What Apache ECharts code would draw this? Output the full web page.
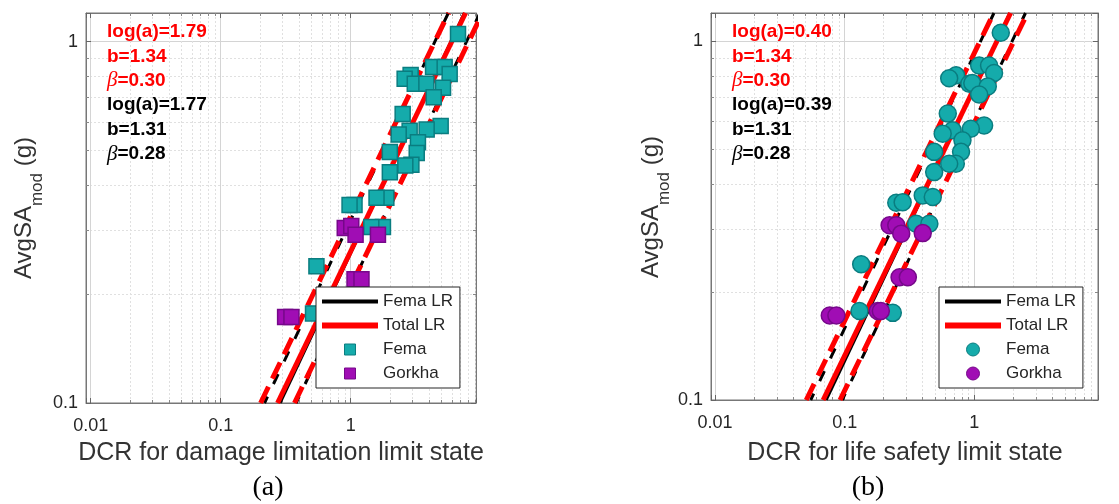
<!DOCTYPE html>
<html>
<head>
<meta charset="utf-8">
<script src="https://cdn.jsdelivr.net/npm/echarts@6/dist/echarts.min.js"></script>
<style>
  html, body { margin: 0; padding: 0; background: #fff; }
  #chart { width: 1119px; height: 504px; }
</style>
</head>
<body>
<div id="chart"></div>
<script>
// ---- Panel (a): DCR for damage limitation limit state ----
const femaA_dcr   = [6.69, 4.30, 5.28, 2.89, 2.60, 5.77, 3.11, 3.82, 5.13, 4.35,
                     2.51, 4.92, 3.84, 2.84, 2.34, 3.29, 2.00, 3.22, 2.93, 2.63,
                     2.00, 1.88, 1.58, 1.07, 0.98, 1.77, 1.44, 0.545, 0.513, 0.97];
const femaA_sa    = [1.05, 0.851, 0.851, 0.808, 0.789, 0.813, 0.764, 0.765, 0.745, 0.702,
                     0.631, 0.584, 0.571, 0.567, 0.553, 0.527, 0.495, 0.492, 0.456, 0.454,
                     0.435, 0.370, 0.370, 0.353, 0.353, 0.307, 0.307, 0.239, 0.177, 0.175];
const gorkhaA_dcr = [0.90, 1.01, 1.09, 1.62, 1.07, 1.21, 0.313, 0.35, 0.75, 0.79];
const gorkhaA_sa  = [0.305, 0.309, 0.292, 0.292, 0.220, 0.220, 0.173, 0.173, 0.177, 0.177];

// ---- Panel (b): DCR for life safety limit state ----
const femaB_dcr   = [1.60, 1.09, 1.30, 0.723, 0.64, 1.42, 0.915, 0.965, 1.27, 1.09,
                     0.624, 1.19, 0.94, 0.681, 0.57, 0.81, 0.49, 0.79, 0.72, 0.64,
                     0.49, 0.40, 0.478, 0.25, 0.28, 0.356, 0.45, 0.134, 0.13, 0.235];
const femaB_sa    = [1.057, 0.857, 0.857, 0.804, 0.789, 0.816, 0.762, 0.765, 0.749, 0.711,
                     0.629, 0.583, 0.571, 0.565, 0.553, 0.530, 0.492, 0.492, 0.456, 0.456,
                     0.432, 0.372, 0.368, 0.355, 0.356, 0.310, 0.310, 0.239, 0.177, 0.175];
const gorkhaB_dcr = [0.222, 0.25, 0.273, 0.40, 0.265, 0.307, 0.0767, 0.0863, 0.18, 0.19];
const gorkhaB_sa  = [0.307, 0.307, 0.291, 0.292, 0.220, 0.220, 0.172, 0.172, 0.177, 0.177];

// Fitted power laws ln(DCR) = ln(a) + b ln(Sa), dispersion beta: [ln a, b, beta]
const fitA_total = [1.79, 1.34, 0.30];
const fitA_fema  = [1.77, 1.31, 0.28];
const fitB_total = [0.40, 1.34, 0.30];
const fitB_fema  = [0.39, 1.31, 0.28];

// Axis ranges and tick labels
const saRange     = [0.1, 1.2];
const xRangeA     = [0.0092, 9.2];
const xRangeB     = [0.0093, 9.0];
const xTickLabels = ['0.01', '0.1', '1'];
const yTickLabels = ['0.1', '1'];

const FONT = '"Liberation Sans", Arial, sans-serif';
const SERIF = '"Liberation Serif", "Times New Roman", serif';
const AXC = '#262626';
const TEAL = '#15abab', TEAL_EDGE = '#0a7d80';
const PURPLE = '#a00db4', PURPLE_EDGE = '#76088a';

// legend glyphs: flat bars for the fits, a square marker
const BAR_THIN = 'path://M0,0H56V4H0Z';
const BAR_THICK = 'path://M0,0H56V6H0Z';
const SQUARE = 'path://M0,0H10V10H0Z';

function labelFor(list) {
  return function (v) {
    const hit = list.find(t => Math.abs(Number(t) - v) <= 1e-6 * Math.max(Number(t), v));
    return hit || '';
  };
}

function pairs(xs, ys) { return xs.map((x, i) => [x, ys[i]]); }

// median (k = 0) and +/- beta bands along the Sa range
function fitLine(fit, k) {
  return saRange.map(s => [Math.exp(fit[0] + k * fit[2]) * Math.pow(s, fit[1]), s]);
}

function axisPair(gi, range, isX, labels) {
  const main = {
    type: 'log', gridIndex: gi, min: range[0], max: range[1],
    position: isX ? 'bottom' : 'left',
    axisLine: { show: true, lineStyle: { color: '#777', width: 1 } },
    axisTick: { show: true, inside: true, length: 5, lineStyle: { color: '#666' } },
    minorTick: { show: true, splitNumber: 9, length: 3, lineStyle: { color: '#888' } },
    splitLine: { show: true, lineStyle: { color: '#d4d4d4', width: 1 } },
    minorSplitLine: { show: true, lineStyle: { color: '#e0e0e0', width: 1, type: [2, 2] } },
    axisLabel: {
      formatter: labelFor(labels), color: AXC, fontSize: 18, fontFamily: FONT,
      margin: isX ? 14 : 8, hideOverlap: false
    }
  };
  const mirror = {
    type: 'log', gridIndex: gi, min: range[0], max: range[1],
    position: isX ? 'top' : 'right',
    axisLine: { show: true, lineStyle: { color: '#777', width: 1 } },
    axisTick: { show: true, inside: true, length: 5, lineStyle: { color: '#666' } },
    minorTick: { show: true, splitNumber: 9, length: 3, lineStyle: { color: '#888' } },
    splitLine: { show: false }, minorSplitLine: { show: false },
    axisLabel: { show: false }
  };
  return [main, mirror];
}

function panelSeries(axisBase, fitFema, fitTotal, femaPts, gorkhaPts, symbol, size) {
  const ax = { xAxisIndex: axisBase, yAxisIndex: axisBase };
  const lineCommon = Object.assign({ type: 'line', showSymbol: false, symbol: 'none', silent: true, clip: true, z: 2 }, ax);
  const dashBlack = { color: '#000', width: 3, type: [11, 14], dashOffset: 4 };
  const dashRed = { color: '#ff0000', width: 5, type: [18, 9] };
  return [
    Object.assign({}, lineCommon, { name: 'Fema LR', data: fitLine(fitFema, 0), lineStyle: { color: '#000', width: 2.5 } }),
    Object.assign({}, lineCommon, { name: 'Fema LR -β', data: fitLine(fitFema, -1), lineStyle: dashBlack }),
    Object.assign({}, lineCommon, { name: 'Fema LR +β', data: fitLine(fitFema, 1), lineStyle: dashBlack }),
    Object.assign({}, lineCommon, { name: 'Total LR -β', data: fitLine(fitTotal, -1), lineStyle: dashRed }),
    Object.assign({}, lineCommon, { name: 'Total LR +β', data: fitLine(fitTotal, 1), lineStyle: dashRed }),
    Object.assign({}, lineCommon, { name: 'Total LR', data: fitLine(fitTotal, 0), lineStyle: { color: '#ff0000', width: 5 } }),
    Object.assign({ type: 'scatter', name: 'Fema', symbol, symbolSize: size, data: femaPts, z: 3,
      itemStyle: { color: TEAL, borderColor: TEAL_EDGE, borderWidth: 1.5, opacity: 1 } }, ax),
    Object.assign({ type: 'scatter', name: 'Gorkha', symbol, symbolSize: size, data: gorkhaPts, z: 3,
      itemStyle: { color: PURPLE, borderColor: PURPLE_EDGE, borderWidth: 1.5, opacity: 1 } }, ax)
  ];
}

function legendFor(left, icon, iconH) {
  return {
    orient: 'vertical', left, top: 287, selectedMode: false,
    itemWidth: 56, itemHeight: iconH, itemGap: 7,
    symbolKeepAspect: true,
    padding: [6, 7, 6, 6],
    backgroundColor: '#fff', borderColor: '#262626', borderWidth: 1,
    textStyle: { fontSize: 17, color: AXC, fontFamily: FONT, lineHeight: 17 },
    z: 10,
    data: [
      { name: 'Fema LR', icon: BAR_THIN, itemStyle: { color: '#000', borderWidth: 0 } },
      { name: 'Total LR', icon: BAR_THICK, itemStyle: { color: '#ff0000', borderWidth: 0 } },
      { name: 'Fema', icon, itemStyle: { color: TEAL, borderColor: TEAL_EDGE, borderWidth: 1 } },
      { name: 'Gorkha', icon, itemStyle: { color: PURPLE, borderColor: PURPLE_EDGE, borderWidth: 1 } }
    ]
  };
}

function annotation(x, fitTotal, fitFema) {
  const rows = [
    [fitTotal, '#ff0000'], [fitFema, '#000000']
  ];
  const out = [];
  let i = 0;
  rows.forEach(([fit, col]) => {
    const lines = [
      '{v|log(a)=' + fit[0].toFixed(2) + '}',
      '{v|b=' + fit[1].toFixed(2) + '}',
      '{g|β}{v|=' + fit[2].toFixed(2) + '}'
    ];
    lines.forEach(t => {
      out.push({
        type: 'text', x: x, y: 32 + i * 24.4, z: 20,
        style: {
          text: t, align: 'left', verticalAlign: 'middle',
          rich: {
            v: { fill: col, fontSize: 19, fontWeight: 'bold', fontFamily: FONT },
            g: { fill: col, fontSize: 21, fontStyle: 'italic', fontFamily: SERIF }
          }
        }
      });
      i++;
    });
  });
  return out;
}

function yTitle(x, y) {
  return {
    type: 'text', x, y, rotation: Math.PI / 2, z: 20,
    style: {
      text: '{m|AvgSA}{s|mod}{m| (g)}', align: 'center', verticalAlign: 'middle',
      rich: {
        m: { fill: '#333', fontSize: 24, fontFamily: FONT },
        s: { fill: '#333', fontSize: 17, fontFamily: FONT, padding: [26, 0, 0, 0] }
      }
    }
  };
}

function plainText(x, y, text, size, family, color) {
  return {
    type: 'text', x, y, z: 20,
    style: { text, align: 'center', verticalAlign: 'middle', fill: color, fontSize: size, fontFamily: family }
  };
}

const axA_x = axisPair(0, xRangeA, true, xTickLabels);
const axA_y = axisPair(0, saRange, false, yTickLabels);
const axB_x = axisPair(1, xRangeB, true, xTickLabels);
const axB_y = axisPair(1, saRange, false, yTickLabels);

const option = {
  animation: false,
  backgroundColor: '#fff',
  grid: [
    { left: 86, top: 13, width: 390, height: 390, show: true, borderColor: '#777', borderWidth: 1, backgroundColor: '#fff' },
    { left: 711, top: 13, width: 387, height: 387, show: true, borderColor: '#777', borderWidth: 1, backgroundColor: '#fff' }
  ],
  // axis order: [A main, A mirror, B main, B mirror]
  xAxis: [axA_x[0], axA_x[1], axB_x[0], axB_x[1]],
  yAxis: [axA_y[0], axA_y[1], axB_y[0], axB_y[1]],
  legend: [legendFor(316, SQUARE, 11), legendFor(939, 'circle', 13)],
  series: [].concat(
    panelSeries(0, fitA_fema, fitA_total, pairs(femaA_dcr, femaA_sa), pairs(gorkhaA_dcr, gorkhaA_sa), 'rect', 15),
    panelSeries(2, fitB_fema, fitB_total, pairs(femaB_dcr, femaB_sa), pairs(gorkhaB_dcr, gorkhaB_sa), 'circle', 17)
  ),
  graphic: [].concat(
    annotation(107, fitA_total, fitA_fema),
    annotation(732, fitB_total, fitB_fema),
    [
      yTitle(24, 208),
      yTitle(651, 207),
      plainText(281, 453, 'DCR for damage limitation limit state', 25, FONT, '#333'),
      plainText(905, 453, 'DCR for life safety limit state', 25, FONT, '#333'),
      plainText(268, 488, '(a)', 28, SERIF, '#000'),
      plainText(868, 488, '(b)', 28, SERIF, '#000')
    ]
  )
};

const chart = echarts.init(document.getElementById('chart'), null, { renderer: 'canvas' });
chart.setOption(option);
</script>
</body>
</html>
